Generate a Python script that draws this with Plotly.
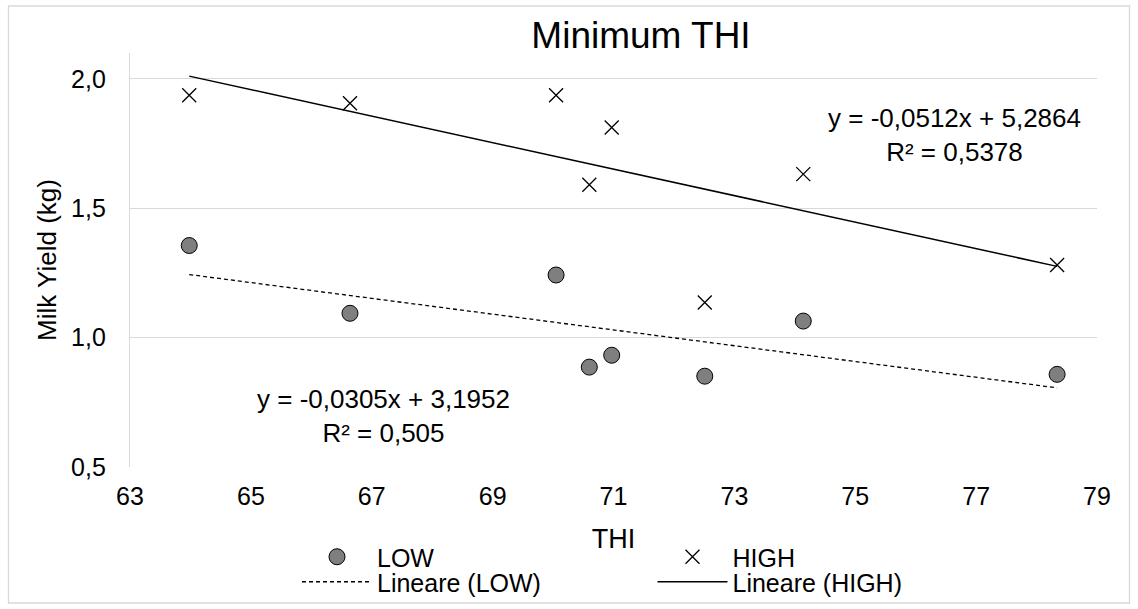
import plotly.graph_objects as go

# ---- data ----
thi = [63.98, 66.64, 70.05, 70.60, 70.97, 72.51, 74.14, 78.34]
low_yield = [1.356, 1.094, 1.242, 0.886, 0.932, 0.851, 1.064, 0.858]
high_yield = [1.937, 1.906, 1.937, 1.591, 1.812, 1.136, 1.632, 1.281]

low_slope, low_intercept, low_r2 = -0.0305, 3.1952, 0.505
high_slope, high_intercept, high_r2 = -0.0512, 5.2864, 0.5378

x_ticks = [63, 65, 67, 69, 71, 73, 75, 77, 79]
y_ticks = [0.5, 1.0, 1.5, 2.0]
y_tick_text = ["0,5", "1,0", "1,5", "2,0"]

FONT = "Liberation Sans, Arial, sans-serif"

# geometry of plot area in px
W, H = 1138, 609
L, R, T, B = 130, 1097, 53, 467
pw, ph = R - L, B - T

def px(x):
    return (x - L) / pw

def py(y):
    return (B - y) / ph

trend_x = [min(thi), max(thi)]
low_trend = [low_slope * v + low_intercept for v in trend_x]
high_trend = [high_slope * v + high_intercept for v in trend_x]

fig = go.Figure()
fig.add_trace(go.Scatter(
    x=thi, y=low_yield, mode="markers", name="LOW",
    marker=dict(symbol="circle", size=16, color="#7f7f7f",
                line=dict(color="#000000", width=1)),
    legend="legend"))
fig.add_trace(go.Scatter(
    x=thi, y=high_yield, mode="markers", name="HIGH",
    marker=dict(symbol="x-thin", size=14, color="#000000",
                line=dict(color="#000000", width=1.3)),
    legend="legend2"))
fig.add_trace(go.Scatter(
    x=trend_x, y=low_trend, mode="lines", name="Lineare (LOW)",
    line=dict(color="#000000", width=1.3, dash="4px,3px"),
    legend="legend3"))
fig.add_trace(go.Scatter(
    x=trend_x, y=high_trend, mode="lines", name="Lineare (HIGH)",
    line=dict(color="#000000", width=1.5),
    legend="legend4"))

def fmt(v, nd):
    return f"{v:.{nd}f}".replace(".", ",")

ann_font = dict(family=FONT, size=26, color="#000000")
fig.add_annotation(
    x=67.19, y=0.696, xref="x", yref="y",
    text=f"y = {fmt(low_slope, 4)}x + {fmt(low_intercept, 4)}<br>R² = {fmt(low_r2, 3)}",
    showarrow=False, font=ann_font, align="center")
fig.add_annotation(
    x=76.64, y=1.783, xref="x", yref="y",
    text=f"y = {fmt(high_slope, 4)}x + {fmt(high_intercept, 4)}<br>R² = {fmt(high_r2, 4)}",
    showarrow=False, font=ann_font, align="center")

# chart border
border = "#d9d9d9"
fig.add_shape(type="rect", xref="paper", yref="paper",
              x0=px(8.5), x1=px(1129.5), y0=py(603), y1=py(6),
              line=dict(color=border, width=1.3), layer="below")

def leg(xp, yp):
    return dict(
        orientation="h", xref="paper", yref="paper",
        x=px(xp), y=py(yp), xanchor="left", yanchor="middle",
        font=dict(family=FONT, size=25, color="#000000"),
        itemwidth=70, bgcolor="rgba(0,0,0,0)",
        itemclick=False, itemdoubleclick=False)

fig.update_layout(
    width=W, height=H,
    margin=dict(l=L, r=W - R, t=T, b=H - B, autoexpand=False),
    paper_bgcolor="#ffffff", plot_bgcolor="#ffffff",
    font=dict(family=FONT, size=25, color="#000000"),
    title=dict(text="Minimum THI", x=641 / W, xref="container", xanchor="center",
               y=1 - 35 / H, yref="container", yanchor="middle",
               font=dict(family=FONT, size=37, color="#000000")),
    xaxis=dict(range=[63, 79], tickmode="array", tickvals=x_ticks,
               ticktext=[str(t) for t in x_ticks],
               showgrid=False, zeroline=False, showline=False,
               ticks="", ticklabelstandoff=12,
               tickfont=dict(family=FONT, size=25, color="#000000"),
               title=dict(text="THI", standoff=20,
                          font=dict(family=FONT, size=27, color="#000000"))),
    yaxis=dict(range=[0.5, 2.1], tickmode="array", tickvals=y_ticks,
               ticktext=y_tick_text,
               showgrid=True, gridcolor=border, gridwidth=1.3,
               zeroline=False, showline=True, linecolor=border, linewidth=1.3,
               ticks="", ticklabelstandoff=18,
               tickfont=dict(family=FONT, size=25, color="#000000"),
               title=dict(text="Milk Yield (kg)", standoff=6,
                          font=dict(family=FONT, size=26, color="#000000"))),
    legend=leg(297, 557),
    legend2=leg(652.5, 557),
    legend3=leg(297, 582),
    legend4=leg(652.5, 582),
    showlegend=True,
)

fig.write_html("out.html")
